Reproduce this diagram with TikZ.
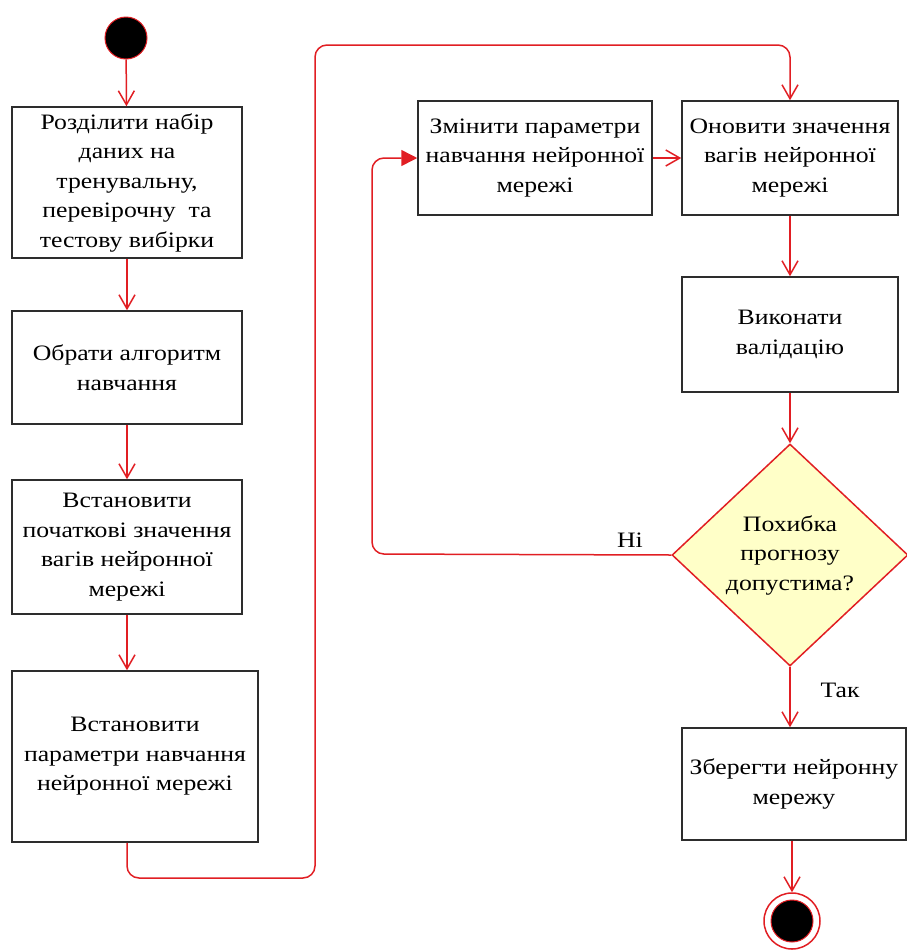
\documentclass[tikz,border=0pt]{standalone}
\usepackage{fontspec}
\setmainfont{Liberation Serif}[FakeStretch=1.17]
\usetikzlibrary{arrows.meta,shapes.geometric}

\definecolor{flowred}{RGB}{225,30,35}
\definecolor{boxgray}{RGB}{45,45,45}
\definecolor{decfill}{RGB}{255,255,200}

\tikzset{
  act/.style={draw=boxgray,line width=1.5pt,fill=white,align=center,inner sep=2pt,
    font=\fontsize{22}{29.5}\selectfont},
  flow/.style={draw=flowred,line width=1.5pt,-{Straight Barb[length=14pt,width=16pt]}},
  back/.style={draw=flowred,line width=1.5pt,rounded corners=12pt,-{Triangle[length=16pt,width=16pt]}},
}

\begin{document}
\begin{tikzpicture}[x=1pt,y=-1pt]
\useasboundingbox (0,0) rectangle (906,951);
% start and end
\node[circle,fill=black,draw=flowred,line width=1pt,minimum size=42pt,inner sep=0] (start) at (126,38) {};
% left column
\node[act,minimum width=230pt,minimum height=151pt] (rozd) at (127,182.5)
  {Розділити набір\\даних на\\тренувальну,\\перевірочну~~та\\тестову вибірки};
\node[act,minimum width=230pt,minimum height=113pt] (alg) at (127,367.5)
  {Обрати алгоритм\\навчання};
\node[act,minimum width=230pt,minimum height=134pt] (poch) at (127,547)
  {Встановити\\початкові значення\\вагів нейронної\\мережі};
\node[act,minimum width=246pt,minimum height=171pt] (param) at (135,756.5)
  {Встановити\\параметри навчання\\нейронної мережі};
% right part
\node[act,minimum width=234pt,minimum height=114pt] (zmin) at (535,158)
  {Змінити параметри\\навчання нейронної\\мережі};
\node[act,minimum width=216pt,minimum height=114pt] (onov) at (790,158)
  {Оновити значення\\вагів нейронної\\мережі};
\node[act,minimum width=216pt,minimum height=115pt] (val) at (790,334.5)
  {Виконати\\валідацію};
\node[act,diamond,draw=flowred,fill=decfill,minimum width=236pt,minimum height=222pt,
  inner sep=0] (dec) at (790,555) {Похибка\\прогнозу\\допустима?};
\node[act,minimum width=224pt,minimum height=112pt] (zber) at (794,784)
  {Зберегти нейронну\\мережу};
\node[circle,fill=white,draw=flowred,line width=1.5pt,minimum size=56pt,inner sep=0] (fin) at (792,921) {};
\node[circle,fill=black,draw=flowred,line width=1pt,minimum size=42pt,inner sep=0] (finin) at (fin) {};
% loop corners
\coordinate (loopA) at (315,878);
\coordinate (loopB) at (315,45);
\coordinate (noA) at (372,554);
% connectors
\draw[flow] (start) -- (rozd);
\draw[flow] (rozd) -- (alg);
\draw[flow] (alg) -- (poch);
\draw[flow] (poch.south) -- (poch.south |- param.north);
\draw[flow,rounded corners=12pt] (rozd |- param.south) |- (loopA) -- (loopB) -| (onov.north);
\draw[flow] (zmin) -- (onov);
\draw[flow] (onov) -- (val);
\draw[flow] (val) -- (dec);
\draw[flow] (dec.south) -- (dec.south |- zber.north);
\draw[flow] (fin |- zber.south) -- (fin);
\draw[back] (dec.west) -- (noA) |- (zmin.west);
\node[font=\fontsize{22}{26}\selectfont] (ni) at (630,540) {Ні};
\node[font=\fontsize{22}{26}\selectfont] (tak) at (840,690) {Так};
\end{tikzpicture}
\end{document}
